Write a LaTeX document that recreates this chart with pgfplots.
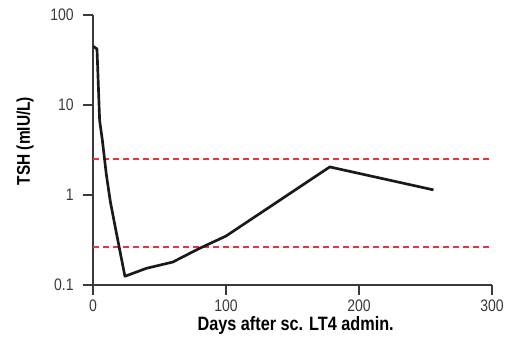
\documentclass[border=0pt]{standalone}
\usepackage{pgfplots}
\pgfplotsset{compat=1.18}
\usepackage{fontspec}
\setmainfont{Liberation Sans}[FakeStretch=0.84]
\definecolor{refred}{RGB}{232,52,60}
\definecolor{axgray}{HTML}{3A3A3A}
\begin{document}
\begin{tikzpicture}
\begin{axis}[
  scale only axis, width=299.25pt, height=202.5pt,
  ymode=log, xmin=0, xmax=300, ymin=0.1, ymax=100,
  axis lines=left, axis line style={-, axgray, line width=0.9pt},
  tick align=outside, major tick length=7.5pt, tick style={axgray, line width=0.9pt},
  xtick={0,100,200,300}, xticklabels={0,100,200,300},
  ytick={0.1,1,10,100}, yticklabels={0.1,1,10,100},
  yminorticks=false,
  ticklabel style={font=\fontsize{12.5}{12.5}\selectfont, text=axgray},
  yticklabel style={xshift=-3.5pt},
  xlabel={Days after sc. LT4 admin.},
  ylabel={TSH (mIU/L)},
  xlabel style={font=\fontsize{14.5}{14.5}\selectfont\bfseries, at={(axis description cs:0.508,-0.1667)}, anchor=base},
  ylabel style={font=\fontsize{13.8}{13.8}\selectfont\bfseries, at={(axis description cs:-0.17,0.533)}, anchor=center},
]
\addplot[color=refred, line width=1.1pt, dash pattern=on 4.5pt off 3pt] coordinates {(0,0.265) (300,0.265)};
\addplot[color=refred, line width=1.1pt, dash pattern=on 4.5pt off 3pt] coordinates {(0,2.52) (300,2.52)};
\addplot[color=black!90, line width=2pt, line join=round] coordinates {
  (0,45) (3,42) (5,6.7) (7,4.1) (10,1.7) (13,0.85) (17,0.42) (24,0.125)
  (40,0.153) (60,0.18) (80,0.255) (100,0.35) (178,2.05) (256,1.14)
};
\coordinate (ll) at (rel axis cs:0,0);
\end{axis}
\pgfresetboundingbox
\path[use as bounding box] (ll) ++(-69.75pt,-40.5pt) rectangle ++(387pt,254.25pt);
\end{tikzpicture}
\end{document}
